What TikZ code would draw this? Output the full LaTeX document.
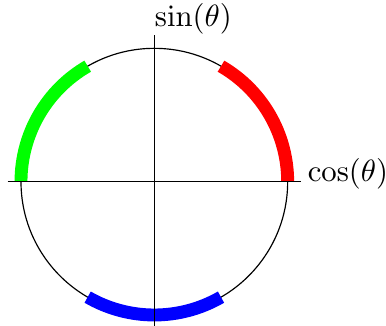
\documentclass[tikz,border=0pt]{standalone}
\usetikzlibrary{positioning}

\begin{document}
\begin{tikzpicture}[
        axis/.style={draw=black, line width=0.4pt},
        band/.style={line width=4.4pt},
        lbl/.style={inner sep=0pt, scale=1.05}]

  \useasboundingbox (-1.852,-1.732) rectangle (2.780,2.180);

  % axes end points
  \coordinate (o) at (0,0);
  \coordinate (xl) at (-1.76,0);
  \coordinate (xr) at (1.76,0);
  \coordinate (yb) at (0,-1.76);
  \coordinate (yt) at (0,1.76);

  % unit circle and coloured arcs
  \draw (o) circle (1.6);
  \draw[band, red]   (0:1.6)   arc (0:60:1.6);
  \draw[band, green] (120:1.6) arc (120:180:1.6);
  \draw[band, blue]  (240:1.6) arc (240:300:1.6);

  \draw[axis] (xl) -- (xr);
  \draw[axis] (yb) -- (yt);

  \node[lbl, anchor=base west, xshift=2pt] (coslabel) at (xr) {$\cos(\theta)$};
  \node[lbl, anchor=south west] (sinlabel) at (yt) {$\sin(\theta)$};
\end{tikzpicture}
\end{document}
